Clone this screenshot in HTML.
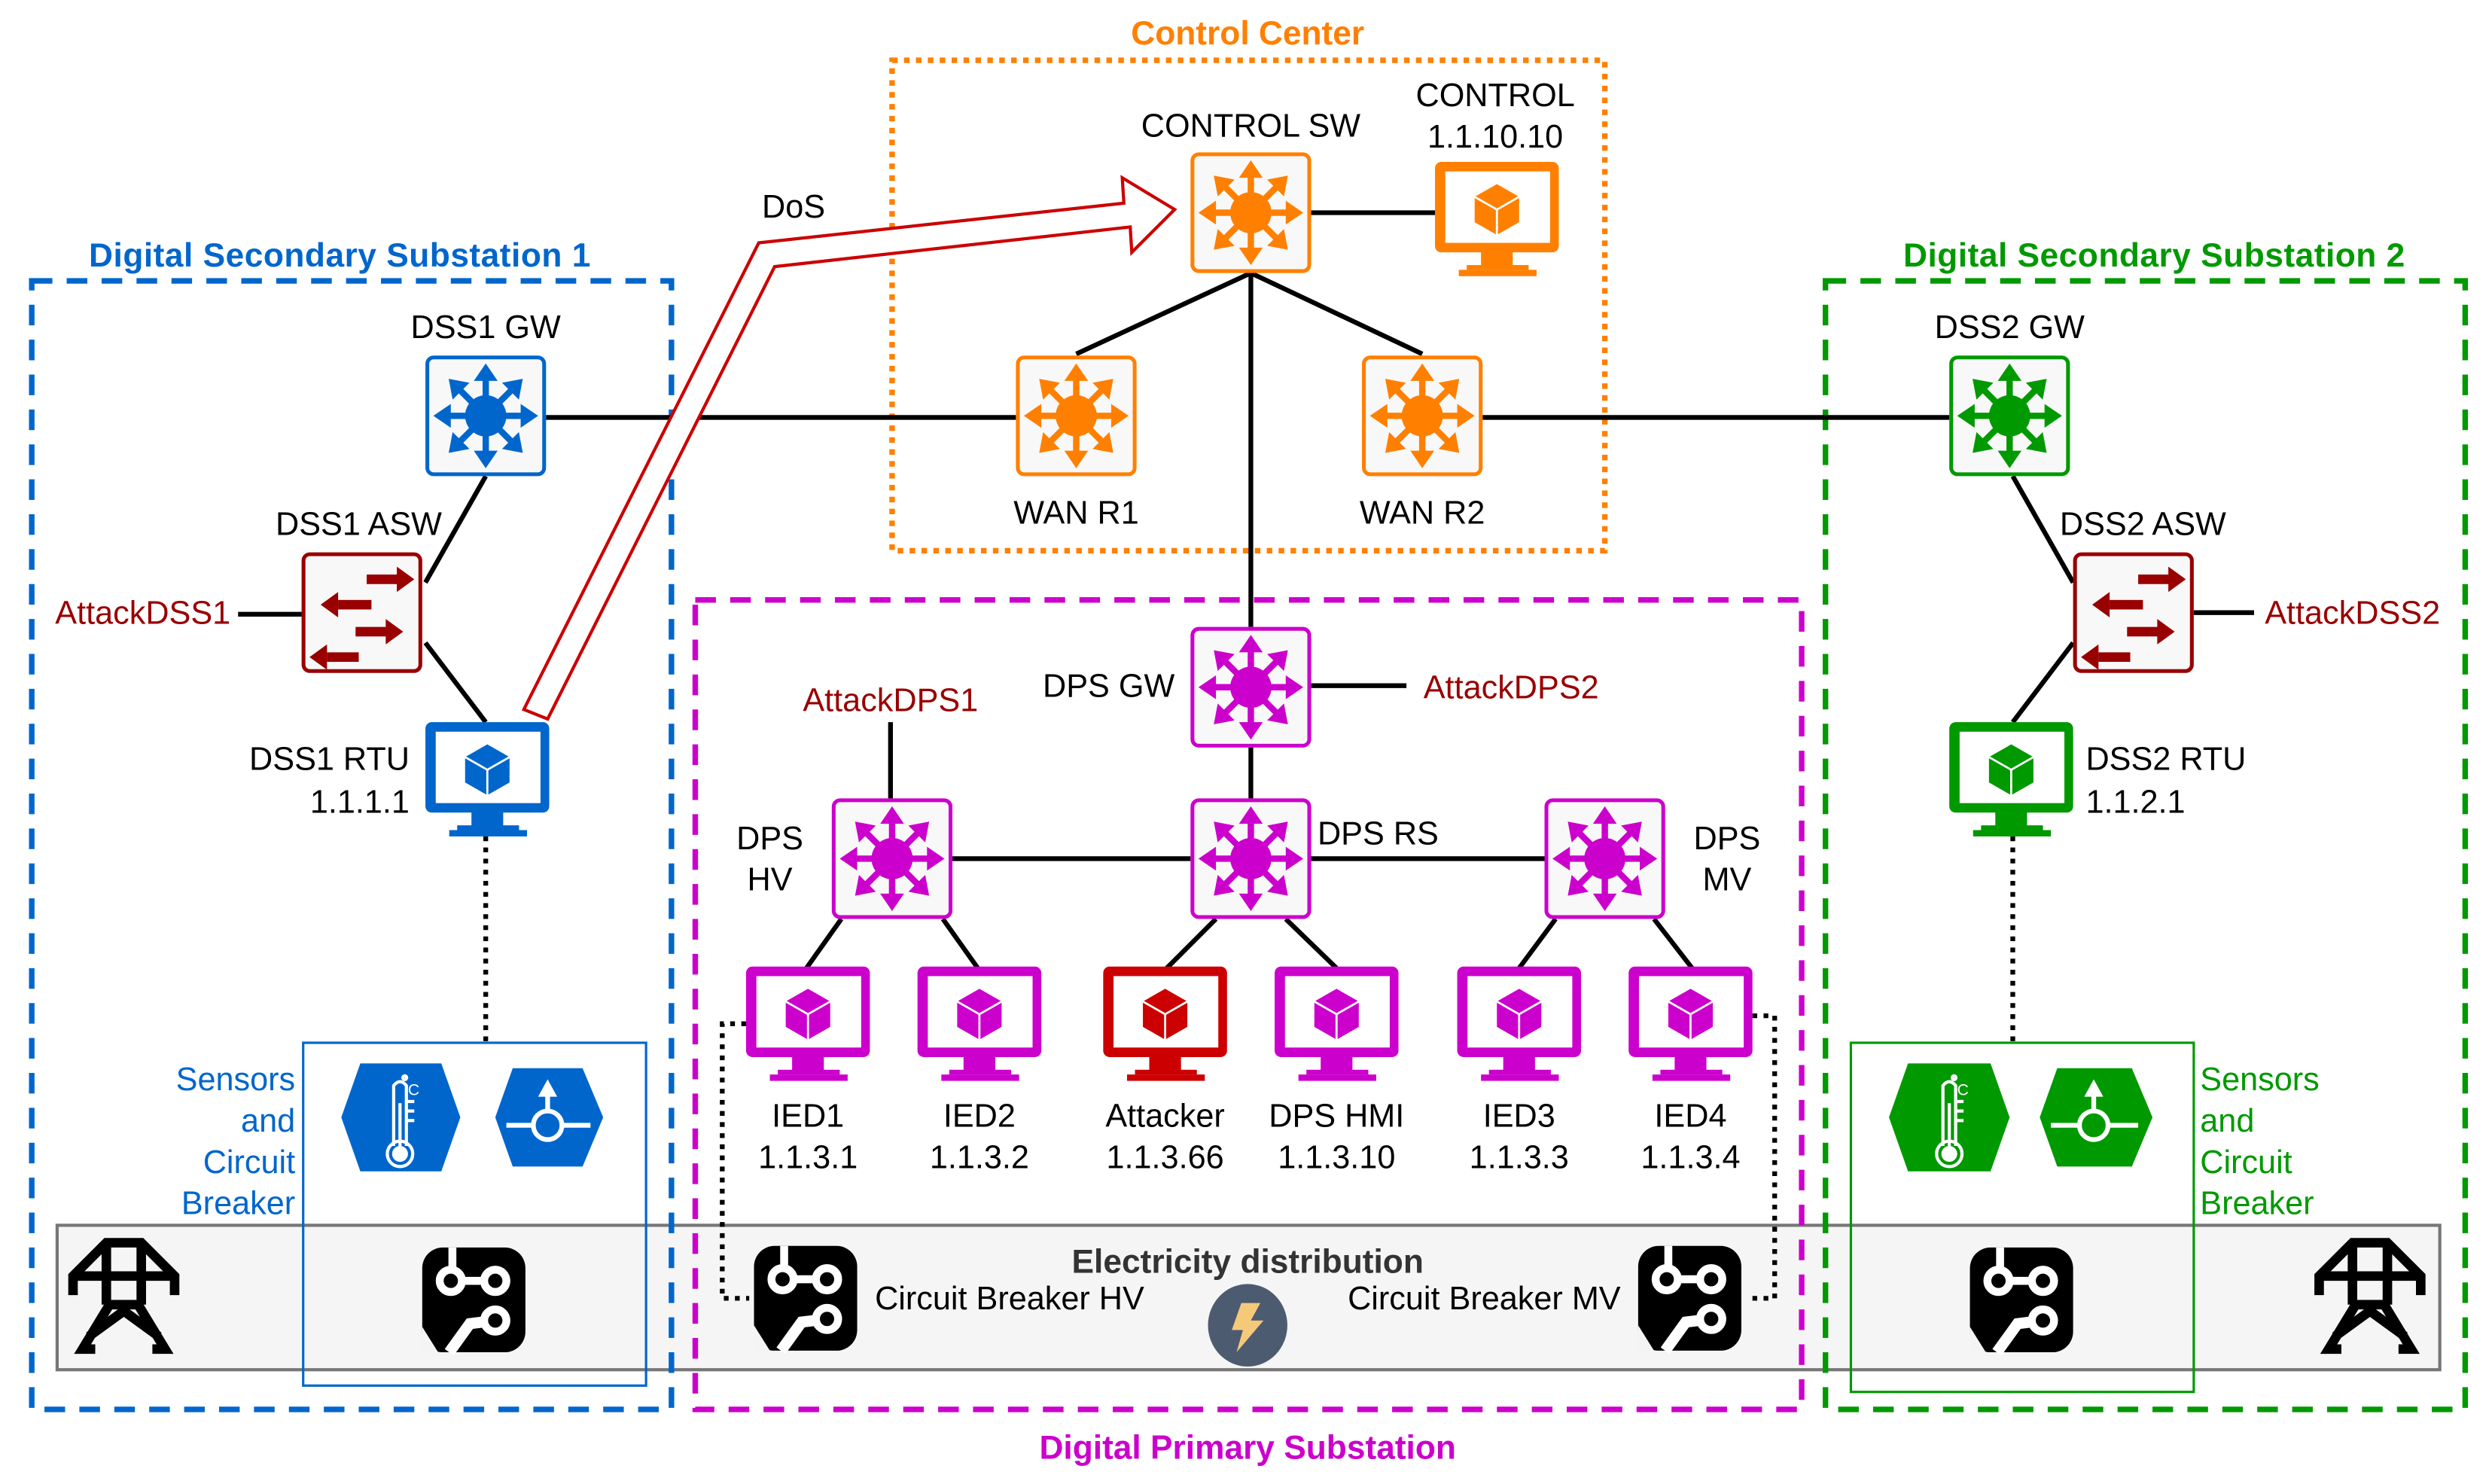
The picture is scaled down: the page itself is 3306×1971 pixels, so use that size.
<!DOCTYPE html>
<html><head><meta charset="utf-8"><style>
html,body{margin:0;padding:0;background:#fff;}
svg{display:block;}
text{font-family:"Liberation Sans",Arial,sans-serif;font-size:20.5px;fill:#000;}
.b{font-weight:bold;font-size:21px;}
</style></head><body>
<svg width="3306" height="1971" viewBox="0 0 1568 935" preserveAspectRatio="none" xmlns="http://www.w3.org/2000/svg">
<defs>
<g id="arr"><line x1="38" y1="38" x2="38" y2="14" stroke="currentColor" stroke-width="4"/><polygon points="38,5 30.5,16 45.5,16" fill="currentColor"/></g>
<symbol id="sw" viewBox="0 0 76 76" overflow="visible">
<rect x="1.2" y="1.2" width="73.6" height="73.6" rx="4" fill="#f8f8f8" stroke="currentColor" stroke-width="2.4"/>
<circle cx="38" cy="38" r="13" fill="currentColor"/>
<use href="#arr"/><use href="#arr" transform="rotate(45 38 38)"/><use href="#arr" transform="rotate(90 38 38)"/><use href="#arr" transform="rotate(135 38 38)"/>
<use href="#arr" transform="rotate(180 38 38)"/><use href="#arr" transform="rotate(225 38 38)"/><use href="#arr" transform="rotate(270 38 38)"/><use href="#arr" transform="rotate(315 38 38)"/>
</symbol>
<symbol id="asw" viewBox="0 0 76 76" overflow="visible">
<rect x="1.2" y="1.2" width="73.6" height="73.6" rx="4" fill="#f8f8f8" stroke="#990000" stroke-width="2.4"/>
<g fill="#990000">
<rect x="41" y="14" width="20" height="6"/><polygon points="60,9 71,17 60,25"/>
<rect x="23" y="30" width="21" height="6"/><polygon points="23,25 12,33 23,41"/>
<rect x="34" y="47" width="20" height="6"/><polygon points="53,42 64,50 53,58"/>
<rect x="16" y="63" width="20" height="6"/><polygon points="16,58 5,66 16,74"/>
</g></symbol>
<symbol id="mon" viewBox="0 0 78 72" overflow="visible">
<g fill="currentColor">
<rect x="0" y="0" width="78" height="57" rx="4"/>
<rect x="29" y="56" width="20" height="10"/>
<rect x="20" y="65" width="39" height="3"/>
<rect x="15" y="68" width="49" height="4"/>
</g>
<rect x="6.5" y="6" width="66" height="45" fill="#fff"/>
<polygon points="39,14 53,22 53,38 39,46 25,38 25,22" fill="currentColor"/>
<polyline points="25,22 39,30 53,22" fill="none" stroke="#fff" stroke-width="1.3"/>
<line x1="39" y1="30" x2="39" y2="46" stroke="#fff" stroke-width="1.3"/>
</symbol>
<symbol id="cb" viewBox="0 0 65 66" overflow="visible">
<rect x="0" y="0" width="65" height="66" rx="13" fill="#000"/>
<g stroke="#fff" fill="#000" stroke-width="5">
<line x1="19" y1="0" x2="19" y2="13"/>
<line x1="19" y1="21" x2="46" y2="21"/>
<circle cx="18" cy="21" r="7"/><circle cx="46" cy="21" r="7"/>
<polyline points="46,46 30,48 17,66" fill="none" stroke-width="7"/>
<circle cx="46" cy="46" r="7"/>
</g>
<polygon points="0,50 0,66 10,66" fill="#f4f4f4"/>
</symbol>
<symbol id="tower" viewBox="0 0 72 74" overflow="visible">
<g fill="none" stroke="#000" stroke-width="6">
<polyline points="4,36 4,24 25,3 47,3 68,24 68,36"/>
<line x1="4" y1="24" x2="68" y2="24"/>
<line x1="25" y1="3" x2="25" y2="42"/><line x1="47" y1="3" x2="47" y2="42"/>
<line x1="25" y1="42" x2="47" y2="42"/>
<polyline points="27,42 10,70 18,70"/><polyline points="45,42 62,70 54,70"/>
<polyline points="14,62 36,46 58,62"/>
</g></symbol>
</defs>

<rect x="36" y="772" width="1501" height="91" fill="#f5f5f5" stroke="#777" stroke-width="2"/>
<rect x="20" y="177" width="403" height="711" fill="none" stroke="#0066cc" stroke-width="3.5" stroke-dasharray="13,9"/>
<rect x="1150" y="177" width="403" height="711" fill="none" stroke="#009900" stroke-width="3.5" stroke-dasharray="13,9"/>
<rect x="438" y="378" width="697" height="510" fill="none" stroke="#cc00cc" stroke-width="3.5" stroke-dasharray="13,9"/>
<rect x="562" y="38" width="449" height="309" fill="none" stroke="#ff8000" stroke-width="3.5" stroke-dasharray="3.5,4"/>
<rect x="191" y="657" width="216" height="216" fill="none" stroke="#0066cc" stroke-width="1.5"/>
<rect x="1166" y="657" width="216" height="220" fill="none" stroke="#009900" stroke-width="1.5"/>

<text x="214" y="168" text-anchor="middle" class="b" style="fill:#0066cc" textLength="316">Digital Secondary Substation 1</text>
<text x="1357" y="168" text-anchor="middle" class="b" style="fill:#009900" textLength="316">Digital Secondary Substation 2</text>
<text x="786" y="28" text-anchor="middle" class="b" style="fill:#ff8000">Control Center</text>
<text x="786" y="919" text-anchor="middle" class="b" style="fill:#cc00cc">Digital Primary Substation</text>

<g stroke="#000" stroke-width="3" fill="none">
<line x1="344" y1="263" x2="640" y2="263"/>
<line x1="934" y1="263" x2="1228" y2="263"/>
<line x1="826" y1="134" x2="904" y2="134"/>
<line x1="788" y1="172" x2="678" y2="223"/>
<line x1="788" y1="172" x2="896" y2="223"/>
<line x1="788" y1="172" x2="788" y2="395"/>
<line x1="306" y1="300" x2="268" y2="367"/>
<line x1="268" y1="405" x2="306" y2="455"/>
<line x1="150" y1="387" x2="190" y2="387"/>
<line x1="1268" y1="300" x2="1306" y2="367"/>
<line x1="1306" y1="405" x2="1268" y2="455"/>
<line x1="1382" y1="386" x2="1420" y2="386"/>
<line x1="826" y1="432" x2="886" y2="432"/>
<line x1="561" y1="455" x2="561" y2="503"/>
<line x1="788" y1="471" x2="788" y2="503"/>
<line x1="600" y1="541" x2="750" y2="541"/>
<line x1="826" y1="541" x2="973" y2="541"/>
<line x1="530" y1="579" x2="508" y2="610"/>
<line x1="594" y1="579" x2="616" y2="610"/>
<line x1="766" y1="579" x2="735" y2="610"/>
<line x1="810" y1="579" x2="842" y2="610"/>
<line x1="980" y1="579" x2="957" y2="610"/>
<line x1="1042" y1="579" x2="1066" y2="610"/>
</g>
<g stroke="#000" stroke-width="3" fill="none" stroke-dasharray="3,4">
<line x1="306" y1="527" x2="306" y2="656"/>
<line x1="1268" y1="527" x2="1268" y2="656"/>
<polyline points="470,645 455,645 455,818 472,818"/>
<polyline points="1104,640 1118,640 1118,818 1100,818"/>
</g>

<path d="M330,447 L478,153 L708,128 L707,112 L740,132 L713,159 L712,143 L488,168 L345,453 Z" fill="#fff" stroke="#cc0000" stroke-width="2"/>
<text x="480" y="137">DoS</text>

<use href="#sw" x="268" y="224" width="76" height="76" style="color:#0066cc"/>
<use href="#sw" x="1228" y="224" width="76" height="76" style="color:#009900"/>
<use href="#sw" x="750" y="96" width="76" height="76" style="color:#ff8000"/>
<use href="#sw" x="640" y="224" width="76" height="76" style="color:#ff8000"/>
<use href="#sw" x="858" y="224" width="76" height="76" style="color:#ff8000"/>
<use href="#sw" x="750" y="395" width="76" height="76" style="color:#cc00cc"/>
<use href="#sw" x="524" y="503" width="76" height="76" style="color:#cc00cc"/>
<use href="#sw" x="750" y="503" width="76" height="76" style="color:#cc00cc"/>
<use href="#sw" x="973" y="503" width="76" height="76" style="color:#cc00cc"/>
<use href="#asw" x="190" y="348" width="76" height="76"/>
<use href="#asw" x="1306" y="348" width="76" height="76"/>

<use href="#mon" x="268" y="455" width="78" height="72" style="color:#0066cc"/>
<use href="#mon" x="1228" y="455" width="78" height="72" style="color:#009900"/>
<use href="#mon" x="904" y="102" width="78" height="72" style="color:#ff8000"/>
<use href="#mon" x="470" y="609" width="78" height="72" style="color:#cc00cc"/>
<use href="#mon" x="578" y="609" width="78" height="72" style="color:#cc00cc"/>
<use href="#mon" x="695" y="609" width="78" height="72" style="color:#cc0000"/>
<use href="#mon" x="803" y="609" width="78" height="72" style="color:#cc00cc"/>
<use href="#mon" x="918" y="609" width="78" height="72" style="color:#cc00cc"/>
<use href="#mon" x="1026" y="609" width="78" height="72" style="color:#cc00cc"/>

<g>
<polygon points="215,704 227,670 278,670 290,704 278,738 227,738" fill="#0066cc"/>
<g stroke="#fff" stroke-width="2" fill="none">
<path d="M248,722 L248,684 Q252,679 256,684 L256,722"/>
<circle cx="252" cy="727" r="8"/>
<circle cx="252" cy="727" r="4" fill="#fff"/>
<line x1="252" y1="695" x2="252" y2="722"/>
<line x1="256" y1="694" x2="261" y2="694"/><line x1="256" y1="700" x2="261" y2="700"/><line x1="256" y1="706" x2="261" y2="706"/>
<circle cx="255" cy="679" r="1.2"/>
</g>
<text x="257" y="690" style="font-size:10px;fill:#fff">C</text>
<polygon points="312,704 323,673 367,673 380,704 367,735 323,735" fill="#0066cc"/>
<g stroke="#fff" stroke-width="3" fill="none">
<line x1="319" y1="709" x2="335" y2="709"/><line x1="355" y1="709" x2="372" y2="709"/>
<circle cx="345" cy="709" r="9"/>
<line x1="345" y1="700" x2="345" y2="688"/>
</g>
<polygon points="345,680 339,691 351,691" fill="#fff"/>
</g>
<g>
<polygon points="1190,704 1202,670 1254,670 1266,704 1254,738 1202,738" fill="#009900"/>
<g stroke="#fff" stroke-width="2" fill="none">
<path d="M1224,722 L1224,684 Q1228,679 1232,684 L1232,722"/>
<circle cx="1228" cy="727" r="8"/>
<circle cx="1228" cy="727" r="4" fill="#fff"/>
<line x1="1228" y1="695" x2="1228" y2="722"/>
<line x1="1232" y1="694" x2="1237" y2="694"/><line x1="1232" y1="700" x2="1237" y2="700"/><line x1="1232" y1="706" x2="1237" y2="706"/>
<circle cx="1231" cy="679" r="1.2"/>
</g>
<text x="1233" y="690" style="font-size:10px;fill:#fff">C</text>
<polygon points="1285,704 1296,673 1343,673 1356,704 1343,735 1296,735" fill="#009900"/>
<g stroke="#fff" stroke-width="3" fill="none">
<line x1="1292" y1="709" x2="1309" y2="709"/><line x1="1329" y1="709" x2="1347" y2="709"/>
<circle cx="1319" cy="709" r="9"/>
<line x1="1319" y1="700" x2="1319" y2="688"/>
</g>
<polygon points="1319,680 1313,691 1325,691" fill="#fff"/>
</g>

<use href="#cb" x="266" y="786" width="65" height="66"/>
<use href="#cb" x="475" y="785" width="65" height="66"/>
<use href="#cb" x="1032" y="785" width="65" height="66"/>
<use href="#cb" x="1241" y="786" width="65" height="66"/>
<use href="#tower" x="42" y="780" width="72" height="74"/>
<use href="#tower" x="1457" y="780" width="72" height="74"/>
<ellipse cx="786" cy="835" rx="25" ry="26" fill="#4d5b70"/>
<polygon points="782,821 794,821 788,832 796,832 779,852 783,838 776,838" fill="#f5c97a"/>

<g text-anchor="middle">
<text x="306" y="213">DSS1 GW</text>
<text x="226" y="337">DSS1 ASW</text>
<text x="1266" y="213">DSS2 GW</text>
<text x="1350" y="337">DSS2 ASW</text>
<text x="788" y="86">CONTROL SW</text>
<text x="942" y="67">CONTROL</text>
<text x="942" y="93">1.1.10.10</text>
<text x="678" y="330">WAN R1</text>
<text x="896" y="330">WAN R2</text>
<text x="485" y="535">DPS</text><text x="485" y="561">HV</text>
<text x="1088" y="535">DPS</text><text x="1088" y="561">MV</text>
<text x="509" y="710">IED1</text><text x="509" y="736">1.1.3.1</text>
<text x="617" y="710">IED2</text><text x="617" y="736">1.1.3.2</text>
<text x="734" y="710">Attacker</text><text x="734" y="736">1.1.3.66</text>
<text x="842" y="710">DPS HMI</text><text x="842" y="736">1.1.3.10</text>
<text x="957" y="710">IED3</text><text x="957" y="736">1.1.3.3</text>
<text x="1065" y="710">IED4</text><text x="1065" y="736">1.1.3.4</text>
<text x="786" y="802" class="b" style="fill:#333">Electricity distribution</text>
<text x="636" y="825">Circuit Breaker HV</text>
<text x="935" y="825">Circuit Breaker MV</text>
<text x="90" y="393" style="fill:#990000">AttackDSS1</text>
<text x="1482" y="393" style="fill:#990000">AttackDSS2</text>
<text x="561" y="448" style="fill:#990000">AttackDPS1</text>
<text x="952" y="440" style="fill:#990000">AttackDPS2</text>
</g>
<g text-anchor="end">
<text x="258" y="485">DSS1 RTU</text>
<text x="258" y="512">1.1.1.1</text>
<text x="740" y="439">DPS GW</text>
<text x="186" y="687" style="fill:#0066cc">Sensors</text>
<text x="186" y="713" style="fill:#0066cc">and</text>
<text x="186" y="739" style="fill:#0066cc">Circuit</text>
<text x="186" y="765" style="fill:#0066cc">Breaker</text>
</g>
<text x="1314" y="485">DSS2 RTU</text>
<text x="1314" y="512">1.1.2.1</text>
<text x="830" y="532">DPS RS</text>
<text x="1386" y="687" style="fill:#009900">Sensors</text>
<text x="1386" y="713" style="fill:#009900">and</text>
<text x="1386" y="739" style="fill:#009900">Circuit</text>
<text x="1386" y="765" style="fill:#009900">Breaker</text>
</svg>
</body></html>
